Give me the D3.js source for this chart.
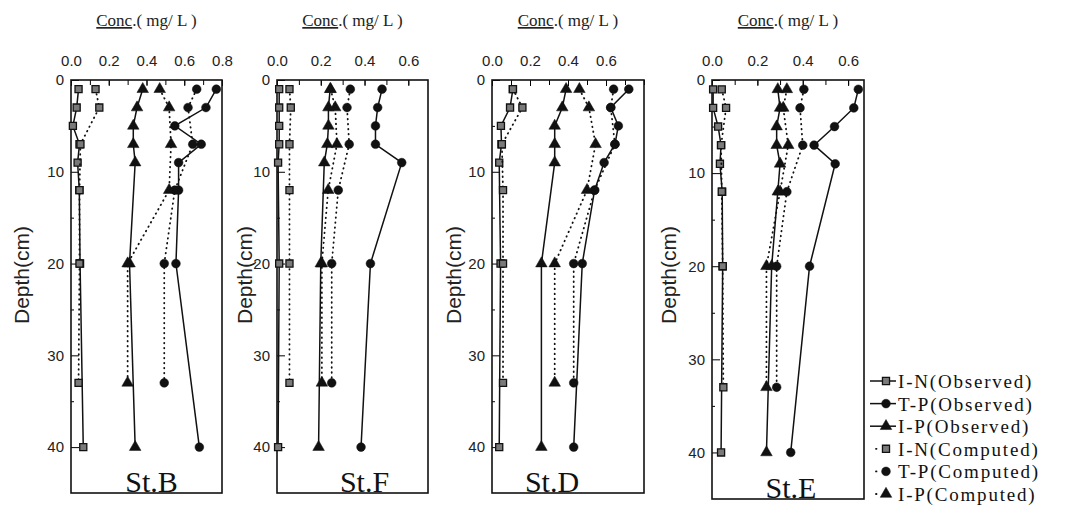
<!DOCTYPE html>
<html>
<head>
<meta charset="utf-8">
<script src="https://cdn.jsdelivr.net/npm/d3@7"></script>
<style>
  body { margin: 0; background: #fff; }
  svg { display: block; }
</style>
</head>
<body>
<div id="chart"></div>
<script>
// depths (cm) of the observed and computed profiles
const depthObs = [1, 3, 5, 7, 9, 12, 20, 40];
const depthComp = [1, 3, 7, 12, 20, 33];
const depthTicks = [0, 10, 20, 30, 40];

// St.B
const inObsB = [0.04, 0.03, 0.01, 0.045, 0.035, 0.044, 0.048, 0.065];
const tpObsB = [0.77, 0.715, 0.55, 0.69, 0.57, 0.57, 0.556, 0.68];
const ipObsB = [0.38, 0.35, 0.33, 0.33, 0.34, null, 0.31, 0.34];
const inCompB = [0.13, 0.15, 0.05, 0.045, 0.045, 0.04];
const tpCompB = [0.666, 0.62, 0.645, 0.55, 0.494, 0.494];
const ipCompB = [0.47, 0.52, 0.53, 0.52, 0.30, 0.30];

// St.F
const inObsF = [0.01, 0.01, 0.01, 0.01, 0.005, null, 0.01, 0.005];
const tpObsF = [0.48, 0.46, 0.45, 0.45, 0.57, null, 0.427, 0.384];
const ipObsF = [0.243, 0.235, 0.235, 0.23, 0.216, null, 0.2, 0.19];
const inCompF = [0.057, 0.063, 0.057, 0.057, 0.057, 0.057];
const tpCompF = [0.335, 0.32, 0.33, 0.28, 0.25, 0.25];
const ipCompF = [0.245, 0.266, 0.274, 0.234, 0.205, 0.205];

// St.D
const inObsD = [0.11, 0.095, 0.047, 0.05, 0.038, null, 0.045, 0.038];
const tpObsD = [0.72, 0.625, 0.665, 0.647, 0.59, 0.54, 0.475, 0.43];
const ipObsD = [0.39, 0.37, 0.33, 0.33, 0.33, null, 0.26, 0.26];
const inCompD = [0.11, 0.16, 0.052, 0.058, 0.058, 0.058];
const tpCompD = [0.64, 0.625, 0.647, 0.54, 0.43, 0.43];
const ipCompD = [0.46, 0.51, 0.545, 0.5, 0.33, 0.33];

// St.E
const inObsE = [0.005, 0.005, 0.027, 0.04, 0.035, 0.045, 0.047, 0.04];
const tpObsE = [0.645, 0.625, 0.54, 0.45, 0.543, null, 0.43, 0.347];
const ipObsE = [0.29, 0.30, 0.285, 0.285, 0.30, 0.29, 0.263, 0.24];
const inCompE = [0.043, 0.062, 0.04, 0.043, 0.047, 0.05];
const tpCompE = [0.405, 0.388, 0.40, 0.33, 0.285, 0.285];
const ipCompE = [0.33, 0.314, 0.336, 0.30, 0.24, 0.24];

const stations = ["St.B", "St.F", "St.D", "St.E"];
const seriesNames = ["I-N(Observed)", "T-P(Observed)", "I-P(Observed)",
                     "I-N(Computed)", "T-P(Computed)", "I-P(Computed)"];
const seriesMarks = ["square", "circle", "triangle", "square", "circle", "triangle"];

const stationData = [
  [inObsB, tpObsB, ipObsB, inCompB, tpCompB, ipCompB],
  [inObsF, tpObsF, ipObsF, inCompF, tpCompF, ipCompF],
  [inObsD, tpObsD, ipObsD, inCompD, tpCompD, ipCompD],
  [inObsE, tpObsE, ipObsE, inCompE, tpCompE, ipCompE]
];
const xMaxes = [0.8, 0.69, 0.8, 0.67];
const xLabelMax = [0.8, 0.6, 0.6, 0.6];

// panel frames in pixels
const frames = [
  {left: 71, right: 222, top: 80, bottom: 493, depthX: 21, labelShift: 5},
  {left: 277, right: 428, top: 80, bottom: 493, depthX: 244, labelShift: 12},
  {left: 492, right: 644, top: 80, bottom: 493, depthX: 453, labelShift: -16},
  {left: 712, right: 864, top: 80, bottom: 499, depthX: 668, labelShift: 3}
];

const width = 1066, height = 511;
const svg = d3.select("#chart").append("svg")
    .attr("width", width)
    .attr("height", height);

const symbolFor = {
  square: d3.symbol().type(d3.symbolSquare).size(50),
  circle: d3.symbol().type(d3.symbolCircle).size(60),
  triangle: d3.symbol().type(d3.symbolTriangle).size(58)
};

function drawMark(g, kind, x, y) {
  g.append("path")
      .attr("d", symbolFor[kind]())
      .attr("transform", "translate(" + x + "," + y + ")")
      .attr("fill", kind === "square" ? "#7a7a7a" : "#111")
      .attr("stroke", "#111")
      .attr("stroke-width", kind === "square" ? 1.3 : 0.5);
}

stations.forEach(function(name, i) {
  const f = frames[i];
  const g = svg.append("g").attr("class", "panel");

  const x = d3.scaleLinear().domain([0, xMaxes[i]]).range([f.left, f.right]);
  const y = d3.scaleLinear().domain([0, 45]).range([f.top, f.bottom]);

  // top axis: minor ticks every 0.1, labels every 0.2
  const minor = d3.range(0, xMaxes[i] + 1e-9, 0.1);
  g.append("g")
      .attr("transform", "translate(0," + f.top + ")")
      .call(d3.axisTop(x).tickValues(minor).tickSize(-5).tickFormat(""))
      .call(a => a.select(".domain").remove());
  const major = d3.range(0, xLabelMax[i] + 1e-9, 0.2);
  g.append("g")
      .attr("transform", "translate(0," + f.top + ")")
      .call(d3.axisTop(x).tickValues(major).tickSize(-6).tickPadding(14)
        .tickFormat(d3.format(".1f")))
      .call(a => a.select(".domain").remove())
      .call(a => a.selectAll("text")
        .attr("font-family", "Liberation Sans, Arial, sans-serif")
        .attr("font-size", 15).attr("fill", "#222"));

  // left depth axis, ticks inside
  g.append("g")
      .attr("transform", "translate(" + f.left + ",0)")
      .call(d3.axisLeft(y).tickValues([5, 15, 25, 35]).tickSize(-3).tickFormat(""))
      .call(a => a.select(".domain").remove());
  g.append("g")
      .attr("transform", "translate(" + f.left + ",0)")
      .call(d3.axisLeft(y).tickValues(depthTicks).tickSize(-8).tickPadding(7))
      .call(a => a.select(".domain").remove())
      .call(a => a.selectAll("text")
        .attr("font-family", "Liberation Sans, Arial, sans-serif")
        .attr("font-size", 15).attr("fill", "#222"));

  // frame
  g.append("rect")
      .attr("x", f.left).attr("y", f.top)
      .attr("width", f.right - f.left).attr("height", f.bottom - f.top)
      .attr("fill", "none").attr("stroke", "#111").attr("stroke-width", 1.6);

  // title
  const t = g.append("text")
      .attr("x", (f.left + f.right) / 2).attr("y", 26)
      .attr("text-anchor", "middle")
      .attr("font-family", "Liberation Serif, Times New Roman, serif")
      .attr("font-size", 17).attr("fill", "#222");
  t.append("tspan").attr("text-decoration", "underline").text("Conc");
  t.append("tspan").text(".( mg/ L )");

  // depth label
  g.append("text")
      .attr("transform", "translate(" + (f.depthX + 8) + ",275) rotate(-90)")
      .attr("text-anchor", "middle")
      .attr("font-family", "Liberation Sans, Arial, sans-serif")
      .attr("font-size", 21).attr("fill", "#222")
      .text("Depth(cm)");

  // station label
  g.append("text")
      .attr("x", (f.left + f.right) / 2 + f.labelShift).attr("y", f.bottom - 1)
      .attr("text-anchor", "middle")
      .attr("font-family", "Liberation Serif, Times New Roman, serif")
      .attr("font-size", 30).attr("fill", "#111")
      .text(name);

  // series
  stationData[i].forEach(function(vals, s) {
    const depths = s < 3 ? depthObs : depthComp;
    const pts = depths.map((d, k) => ({d: d, v: vals[k]})).filter(p => p.v != null);
    const line = d3.line().x(p => x(p.v)).y(p => y(p.d));
    g.append("path")
        .datum(pts)
        .attr("d", line)
        .attr("fill", "none")
        .attr("stroke", "#111")
        .attr("stroke-width", s < 3 ? 1.5 : 1.8)
        .attr("stroke-linecap", "round")
        .attr("stroke-dasharray", s < 3 ? null : "0.5,4.5");
    pts.forEach(p => drawMark(g, seriesMarks[s], x(p.v), y(p.d)));
  });
});

// legend
const legend = svg.append("g").attr("class", "legend");
seriesNames.forEach(function(name, s) {
  const ly = 381 + s * 22.6;
  if (s < 3) {
    legend.append("line")
        .attr("x1", 870).attr("x2", 896).attr("y1", ly).attr("y2", ly)
        .attr("stroke", "#111").attr("stroke-width", 1.5);
  } else {
    legend.append("line")
        .attr("x1", 876).attr("x2", 896).attr("y1", ly).attr("y2", ly)
        .attr("stroke", "#111").attr("stroke-width", 1.8)
        .attr("stroke-linecap", "round").attr("stroke-dasharray", "0.5,9.5");
  }
  drawMark(legend, seriesMarks[s], 886, ly);
  legend.append("text")
      .attr("x", 898).attr("y", ly + 7)
      .attr("font-family", "Liberation Serif, Times New Roman, serif")
      .attr("font-size", 19).attr("letter-spacing", 1.8).attr("fill", "#111")
      .text(name);
});
</script>
</body>
</html>
